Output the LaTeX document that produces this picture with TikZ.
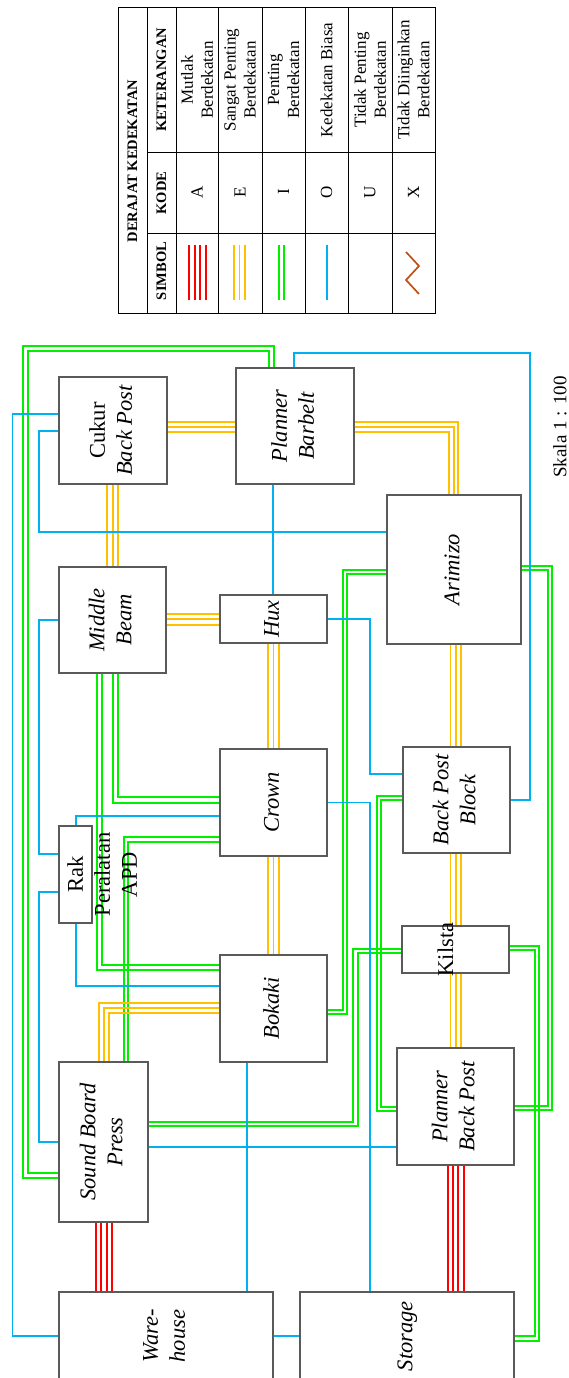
\documentclass[tikz,border=0pt]{standalone}
\usepackage{fontspec}
\setmainfont{Liberation Serif}
\usetikzlibrary{calc}
\definecolor{RedClr}{RGB}{255,0,0}
\definecolor{GoldClr}{RGB}{255,192,0}
\definecolor{GreenClr}{RGB}{0,240,0}
\definecolor{BlueClr}{RGB}{0,176,240}
\definecolor{BrownClr}{RGB}{190,80,20}
\definecolor{BoxClr}{RGB}{90,90,90}
\newcommand{\rlab}[1]{\rotatebox{90}{\begin{tabular}{@{}c@{}}#1\end{tabular}}}

\begin{document}
\begin{tikzpicture}[x=1pt,y=-1pt,
  blk/.style={draw=BoxClr,line width=1.1pt,fill=white,inner sep=0pt,
    font=\fontsize{22.5}{27}\selectfont\itshape},
  Aline/.style={RedClr,line width=1.7pt},
  Eline/.style={GoldClr,line width=1.7pt},
  Iline/.style={GreenClr,line width=1.7pt},
  Oline/.style={BlueClr,line width=1.9pt},
  lgd/.style={rotate=90,align=center,font=\fontsize{17}{20}\selectfont},
  lgdhd/.style={rotate=90,font=\fontsize{14.5}{17}\selectfont\bfseries}]
\useasboundingbox (0,0) rectangle (568,1378);
\clip (0,0) rectangle (568,1378);

\draw[line width=1pt] (118,8) rectangle (435,313);
\foreach \x in {147,176,218,262,305,348,392} \draw[line width=1pt] (\x,8) -- (\x,313);
\foreach \y in {152,233} \draw[line width=1pt] (147,\y) -- (435,\y);
\node[lgdhd] (lgTitle) at (132.5,161) {DERAJAT KEDEKATAN};
\node[lgdhd] (lgKet) at (161.5,80) {KETERANGAN};
\node[lgdhd] (lgKode) at (161.5,193) {KODE};
\node[lgdhd] (lgSim) at (161.5,271) {SIMBOL};
\foreach \x/\k/\t in {197/A/{Mutlak\\Berdekatan},240/E/{Sangat Penting\\Berdekatan},
    283.5/I/{Penting\\Berdekatan},326.5/O/{Kedekatan Biasa},
    370/U/{Tidak Penting\\Berdekatan},413.5/X/{Tidak Diinginkan\\Berdekatan}}{
  \node[lgd] (ket\k) at (\x,80) {\t};
  \node[lgd] (kode\k) at (\x,192) {\k};
}
\foreach \x in {189,194.7,200.3,206} \draw[Aline] (\x,245) -- (\x,300);
\foreach \x in {234,239.5,245} \draw[Eline] (\x,245) -- (\x,300);
\foreach \x in {279,284.3} \draw[Iline] (\x,245) -- (\x,300);
\draw[Oline] (326.7,245) -- (326.7,300);
\draw[BrownClr,line width=1.7pt] (406,252) -- (419,266) -- (406,280) -- (419,294);
\node[rotate=90,font=\fontsize{19}{22}\selectfont] (skala) at (560,427) {Skala 1 : 100};

\node[blk,minimum width=108pt,minimum height=107pt] (CBP) at (113,430.5) {\rlab{{\upshape Cukur}\\Back Post}};
\node[blk,minimum width=118pt,minimum height=116pt] (PBB) at (295,426) {\rlab{Planner\\Barbelt}};
\node[blk,minimum width=107pt,minimum height=106pt] (MB) at (112.5,620) {\rlab{Middle\\Beam}};
\node[blk,minimum width=107pt,minimum height=48pt] (Hux) at (273.5,619) {\rlab{Hux}};
\node[blk,minimum width=134pt,minimum height=149pt] (Ari) at (454,569.5) {\rlab{Arimizo}};
\node[blk,minimum width=107pt,minimum height=107pt] (Crown) at (273.5,802.5) {\rlab{Crown}};
\node[blk,minimum width=107pt,minimum height=106pt] (BPB) at (456.5,800) {\rlab{Back Post\\Block}};
\node[blk,minimum width=107pt,minimum height=47pt] (Kil) at (455.5,949.5) {};
\node[blk,minimum width=33pt,minimum height=97pt] (Rak) at (75.5,874.5) {};
\node[blk,minimum width=107pt,minimum height=107pt] (Bok) at (273.5,1008.5) {\rlab{Bokaki}};
\node[blk,minimum width=89pt,minimum height=160pt] (SBP) at (103.5,1142) {\rlab{Sound Board\\Press}};
\node[blk,minimum width=117pt,minimum height=117pt] (PBP) at (455.5,1106.5) {\rlab{Planner\\Back Post}};
\node[blk,minimum width=214pt,minimum height=100pt] (WH) at (166,1342) {};
\node[blk,minimum width=214pt,minimum height=100pt] (Sto) at (407,1342) {};
\node[font=\fontsize{22.5}{27}\selectfont\itshape] (WHT) at (166,1336) {\rlab{Ware-\\house}};
\node[font=\fontsize{22.5}{27}\selectfont\itshape] (StoT) at (407,1336) {\rlab{Storage}};

\foreach \t/\l/\r/\b in {345.7/23.3/274/1177.7,350.7/28/269.3/1173}
  \draw[Iline] (PBB.north -| \r,0) |- (\l,\t) |- (SBP.west |- 0,\b);
\foreach \x/\y in {118/796.7,112.7/802.7} \draw[Iline] (MB.south -| \x,0) |- (Crown.west |- 0,\y);
\foreach \x/\y in {101.7/965,97.3/970} \draw[Iline] (MB.south -| \x,0) |- (Bok.west |- 0,\y);
\foreach \y/\x in {836.7/124.3,841.7/128.3} \draw[Iline] (Crown.west |- 0,\y) -| (SBP.north -| \x,0);
\foreach \a/\x/\b in {1121.7/353.3/949.3,1125.7/358.3/953.3}
  \draw[Iline] (SBP.east |- 0,\a) -| (\x,\b) -- (Kil.west |- 0,\b);
\foreach \a/\x/\b in {1010/342.7/570,1014/346.7/574}
  \draw[Iline] (Bok.east |- 0,\a) -| (\x,\b) -- (Ari.west |- 0,\b);
\foreach \a/\x/\b in {795.7/376.7/1111,800/380.7/1106.7}
  \draw[Iline] (BPB.west |- 0,\a) -| (\x,\b) -- (PBP.west |- 0,\b);
\foreach \a/\x/\b in {565.7/552.3/1110,570/547.7/1105.7}
  \draw[Iline] (Ari.east |- 0,\a) -| (\x,\b) -- (PBP.east |- 0,\b);
\foreach \a/\x/\b in {946/539.3/1340.7,950/535/1336}
  \draw[Iline] (Kil.east |- 0,\a) -| (\x,\b) -- (Sto.east |- 0,\b);

\foreach \y in {421.7,426.7,431.7} \draw[Eline] (CBP.east |- 0,\y) -- (PBB.west |- 0,\y);
\foreach \x in {107.3,112.7,118} \draw[Eline] (CBP.south -| \x,0) -- (MB.north -| \x,0);
\foreach \y in {614,619.3,624.7} \draw[Eline] (MB.east |- 0,\y) -- (Hux.west |- 0,\y);
\foreach \y/\x in {421.7/458.3,426.7/454,431.7/449.3} \draw[Eline] (PBB.east |- 0,\y) -| (Ari.north -| \x,0);
\foreach \x in {268.2,273.5,278.8} \draw[Eline] (Hux.south -| \x,0) -- (Crown.north -| \x,0);
\foreach \x in {268.2,273.5,278.8} \draw[Eline] (Crown.south -| \x,0) -- (Bok.north -| \x,0);
\foreach \x in {450.5,455.8,461.1} \draw[Eline] (Ari.south -| \x,0) -- (BPB.north -| \x,0);
\foreach \x in {450.5,455.8,461.1} \draw[Eline] (BPB.south -| \x,0) -- (Kil.north -| \x,0);
\foreach \x in {450.5,455.8,461.1} \draw[Eline] (Kil.south -| \x,0) -- (PBP.north -| \x,0);
\foreach \y/\x in {1002.7/98.7,1008/104,1013.3/109.3} \draw[Eline] (Bok.west |- 0,\y) -| (SBP.north -| \x,0);

\foreach \x in {96,101.3,106.7,112} \draw[Aline] (SBP.south -| \x,0) -- (WH.north -| \x,0);
\foreach \x in {447.7,453,458.3,463.7} \draw[Aline] (PBP.south -| \x,0) -- (Sto.north -| \x,0);

\draw[Oline] (CBP.west |- 0,414.3) -| (12.5,1336) -- (WH.west |- 0,1336);
\draw[Oline] (CBP.west |- 0,430.7) -| (39.3,531.7) -- (Ari.west |- 0,531.7);
\draw[Oline] (PBB.south -| 273.3,0) -- (Hux.north -| 273.3,0);
\draw[Oline] (PBB.north -| 294.3,0) |- (530,353.3) |- (BPB.east);
\draw[Oline] (MB.west) -| (39.3,854) -- (Rak.west |- 0,854);
\draw[Oline] (Rak.west |- 0,891.7) -| (39.3,1141.7) -- (SBP.west |- 0,1141.7);
\draw[Oline] (Rak.north -| 76,0) |- (Crown.west |- 0,815.7);
\draw[Oline] (Rak.south -| 76,0) |- (Bok.west |- 0,986);
\draw[Oline] (Hux.east) -| (370,774.3) -- (BPB.west |- 0,774.3);
\draw[Oline] (Crown.east) -| (Sto.north -| 370,0);
\draw[Oline] (SBP.east |- 0,1146.7) -- (PBP.west |- 0,1146.7);
\draw[Oline] (Bok.south -| 246.7,0) -- (WH.north -| 246.7,0);
\draw[Oline] (WH.east |- 0,1336) -- (Sto.west |- 0,1336);

\node[rotate=90,align=center,font=\fontsize{22.5}{27}\selectfont] (RakT) at (102,874.5) {Rak\\Peralatan\\APD};
\node[rotate=90,font=\fontsize{22.5}{27}\selectfont] (KilT) at ($(Kil.center)+(-10,0)$) {Kilsta};
\end{tikzpicture}
\end{document}
